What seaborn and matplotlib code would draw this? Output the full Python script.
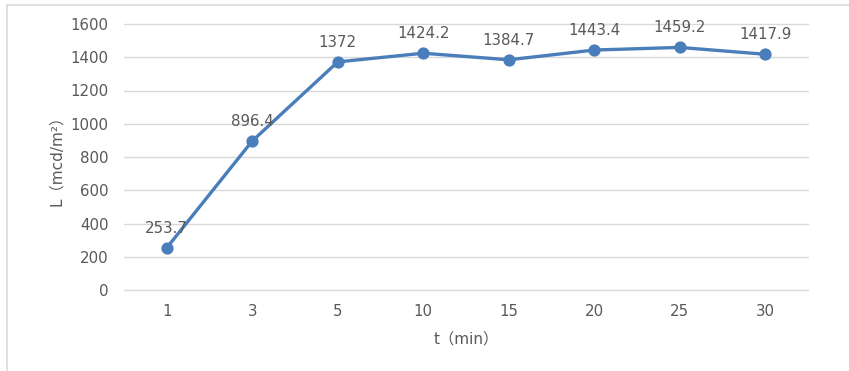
import matplotlib
matplotlib.use("Agg")
import matplotlib.pyplot as plt
from matplotlib.lines import Line2D
import seaborn as sns
import pandas as pd

# Luminance over time
times = ["1", "3", "5", "10", "15", "20", "25", "30"]
luminance = [253.7, 896.4, 1372, 1424.2, 1384.7, 1443.4, 1459.2, 1417.9]
y_ticks = [0, 200, 400, 600, 800, 1000, 1200, 1400, 1600]

sns.set_theme(style="white")
plt.rcParams["font.family"] = ["DejaVu Sans", "Noto Sans CJK SC"]

df = pd.DataFrame({"t": times, "L": luminance})

W, H = 849, 371
fig = plt.figure(figsize=(W / 100, H / 100), dpi=100)
ax = fig.add_axes([124 / W, 1 - 290 / H, (808 - 124) / W, (290 - 24) / H])

line_color = "#4A7EBB"
text_color = "#595959"

sns.pointplot(data=df, x="t", y="L", order=times, color=line_color,
              markers="o", linestyles="-", ax=ax,
              markersize=7, linewidth=2.4)

for i, v in enumerate(luminance):
    ax.annotate(f"{v:g}", (i, v), xytext=(0, 14), textcoords="offset points",
                ha="center", va="center", fontsize=10.8, color=text_color)

ax.set_ylim(0, 1600)
ax.set_xlim(-0.5, len(times) - 0.5)
ax.set_yticks(y_ticks)
ax.yaxis.grid(True, color="#D9D9D9", linewidth=1)
for gl in ax.get_ygridlines():
    gl.set_clip_on(False)
ax.xaxis.grid(False)
ax.set_axisbelow(True)
for s in ax.spines.values():
    s.set_visible(False)
ax.tick_params(axis="both", length=0, labelsize=10.8, labelcolor=text_color)
ax.tick_params(axis="x", pad=10)
ax.tick_params(axis="y", pad=11)

ax.set_xlabel("t（min）", fontsize=11, color=text_color, labelpad=9)
ax.set_ylabel("L（mcd/m²）", fontsize=11, color=text_color, labelpad=5)

# Outer frame on left and top edges
frame_color = "#D9D9D9"
fig.add_artist(Line2D([7 / W, 7 / W], [0, 1 - 5 / H], transform=fig.transFigure,
                      color=frame_color, linewidth=1.2))
fig.add_artist(Line2D([7 / W, 1], [1 - 5 / H, 1 - 5 / H], transform=fig.transFigure,
                      color=frame_color, linewidth=1.2))

fig.savefig("out.png", dpi=100)
